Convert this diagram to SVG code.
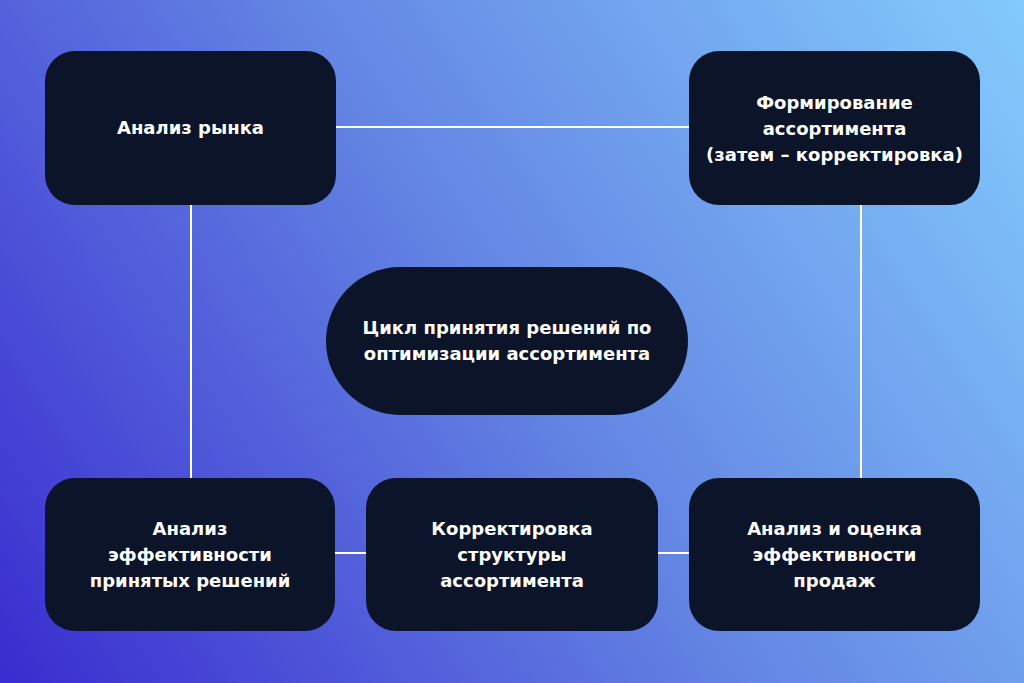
<svg xmlns="http://www.w3.org/2000/svg" width="1024" height="683" viewBox="0 0 1024 683">
<defs>
<linearGradient id="bg" x1="0" y1="683" x2="1024" y2="0" gradientUnits="userSpaceOnUse">
<stop offset="0" stop-color="#3a2ccf"/>
<stop offset="0.5" stop-color="#6384e3"/>
<stop offset="1" stop-color="#83cbfc"/>
</linearGradient>
<style>
.node{fill:#0b1429}
.lbl{fill:#ffffff;font-family:"DejaVu Sans","Noto Sans",sans-serif;font-weight:700;font-size:18px;text-anchor:middle}
.con{stroke:#ffffff;stroke-width:2;fill:none}
</style>
</defs>
<rect x="0" y="0" width="1024" height="683" fill="url(#bg)"/>
<g id="connectors">
<line class="con" x1="336" y1="127" x2="689" y2="127"/>
<line class="con" x1="191" y1="205" x2="191" y2="478"/>
<line class="con" x1="861" y1="205" x2="861" y2="478"/>
<line class="con" x1="335" y1="553" x2="366" y2="553"/>
<line class="con" x1="658" y1="553" x2="689" y2="553"/>
</g>
<g id="market">
<rect class="node" x="45" y="51" width="291" height="154" rx="30"/>
<text class="lbl" x="190.5" y="134">Анализ рынка</text>
</g>
<g id="forming">
<rect class="node" x="689" y="51" width="291" height="154" rx="30"/>
<text class="lbl" x="834.5" y="109">Формирование</text>
<text class="lbl" x="834.5" y="135">ассортимента</text>
<text class="lbl" x="834.5" y="161">(затем – корректировка)</text>
</g>
<g id="center">
<rect class="node" x="326" y="267" width="362" height="148" rx="74"/>
<text class="lbl" x="507" y="334">Цикл принятия решений по</text>
<text class="lbl" x="507" y="360">оптимизации ассортимента</text>
</g>
<g id="efficiency">
<rect class="node" x="45" y="478" width="290" height="153" rx="30"/>
<text class="lbl" x="190" y="535">Анализ</text>
<text class="lbl" x="190" y="561">эффективности</text>
<text class="lbl" x="190" y="587">принятых решений</text>
</g>
<g id="correction">
<rect class="node" x="366" y="478" width="292" height="153" rx="30"/>
<text class="lbl" x="512" y="535">Корректировка</text>
<text class="lbl" x="512" y="561">структуры</text>
<text class="lbl" x="512" y="587">ассортимента</text>
</g>
<g id="sales">
<rect class="node" x="689" y="478" width="291" height="153" rx="30"/>
<text class="lbl" x="834.5" y="535">Анализ и оценка</text>
<text class="lbl" x="834.5" y="561">эффективности</text>
<text class="lbl" x="834.5" y="587">продаж</text>
</g>
</svg>
